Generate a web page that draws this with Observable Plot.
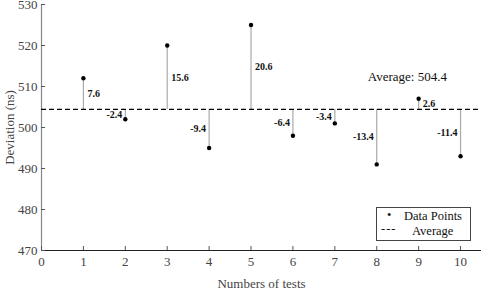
<!DOCTYPE html>
<html><head><meta charset="utf-8">
<script src="https://cdn.jsdelivr.net/npm/d3@7"></script>
<script src="https://cdn.jsdelivr.net/npm/@observablehq/plot@0.6"></script>
<style>
body{margin:0;background:#fff;}
#wrap{position:relative;width:487px;height:289px;font-family:"Liberation Serif","Times New Roman",serif;}
#legend{position:absolute;left:376px;top:207px;width:93px;height:32px;border:1px solid #444;background:#fff;font-size:12.5px;color:#111;}
#legend div{position:absolute;white-space:nowrap;}
</style></head>
<body><div id="wrap"><div id="chart"></div>
<div id="legend">
<div style="left:10px;top:0px;">•</div><div style="left:27px;top:1px;">Data Points</div>
<div style="left:4px;top:14px;letter-spacing:1px;">---</div><div style="left:35px;top:16px;">Average</div>
</div></div>
<script>
const tests = [1,2,3,4,5,6,7,8,9,10];
const values = [512,502,520,495,525,498,501,491,507,493];
const average = 504.4;
const xTicks = [0,1,2,3,4,5,6,7,8,9,10];
const yTicks = [470,480,490,500,510,520,530];

const data = tests.map((t,i)=>({t, v: values[i], d: Math.round((values[i]-average)*10)/10}));
data.forEach(p=>{p.mid=(p.v+average)/2;});

const chart = Plot.plot({
  width: 487, height: 289,
  marginLeft: 41, marginRight: 6, marginTop: 4, marginBottom: 39,
  style: {fontFamily: '"Liberation Serif","Times New Roman",serif', fontSize: "13px", color: "#444", background: "#fff"},
  x: {domain: [0, 10.5]},
  y: {domain: [470, 530]},
  marks: [
    Plot.ruleX([0], {stroke: "#888", strokeWidth: 1.2}),
    Plot.ruleY([470], {stroke: "#222", strokeWidth: 1.2}),
    Plot.axisY({ticks: yTicks, tickSize: -4, tickPadding: 8, label: "Deviation (ns)", labelAnchor: "center", labelArrow: "none", labelOffset: 37, fontSize: 13, stroke: "#555"}),
    Plot.axisX({ticks: xTicks, tickSize: -4, tickPadding: 10, label: "Numbers of tests", labelAnchor: "center", labelArrow: "none", labelOffset: 37, fontSize: 13, stroke: "#555"}),
    Plot.ruleX(data, {x: "t", y1: average, y2: "v", stroke: "#aaa", strokeWidth: 1.2}),
    Plot.ruleY([average], {stroke: "#000", strokeWidth: 1.3, strokeDasharray: "5,3"}),
    Plot.dot(data, {x: "t", y: "v", r: 2.2, fill: "#000", stroke: null}),
    Plot.text(data.filter(d=>d.d>=0), {x: "t", y: "mid", text: d=>d.d.toFixed(1), dx: 4, textAnchor: "start", fontWeight: "bold", fontSize: 10, fill: "#111"}),
    Plot.text(data.filter(d=>d.d<0), {x: "t", y: "mid", text: d=>d.d.toFixed(1), dx: -3, textAnchor: "end", fontWeight: "bold", fontSize: 10, fill: "#111"}),
    Plot.text(["Average: " + average.toFixed(1)], {x: 8.73, y: 512.4, text: d=>d, fontSize: 13, fill: "#111"})
  ]
});
document.getElementById("chart").appendChild(chart);
</script></body></html>
